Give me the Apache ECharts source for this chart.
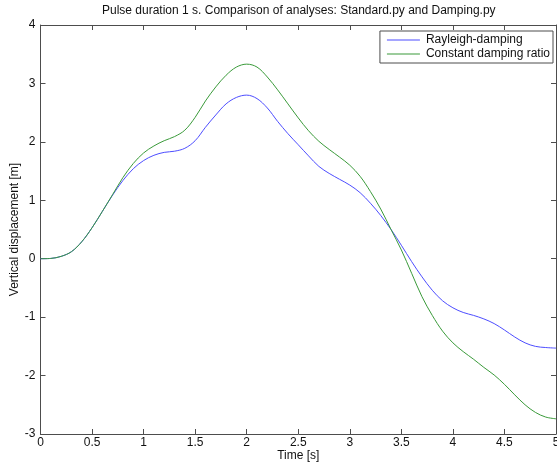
<!DOCTYPE html>
<html>
<head>
<meta charset="utf-8">
<script src="https://cdn.jsdelivr.net/npm/echarts@6/dist/echarts.min.js"></script>
<style>
  html, body { margin: 0; padding: 0; background: #fff; }
  #chart { width: 557px; height: 466px; }
</style>
</head>
<body>
<div id="chart"></div>
<script>
// Time samples [s]
const time = [0.0, 0.1, 0.2, 0.3, 0.4, 0.5, 0.6, 0.7, 0.8, 0.9,
              1.0, 1.1, 1.2, 1.3, 1.4, 1.5, 1.6, 1.7, 1.8, 1.9,
              2.0, 2.1, 2.2, 2.3, 2.4, 2.5, 2.6, 2.7, 2.8, 2.9,
              3.0, 3.1, 3.2, 3.3, 3.4, 3.5, 3.6, 3.7, 3.8, 3.9,
              4.0, 4.1, 4.2, 4.3, 4.4, 4.5, 4.6, 4.7, 4.8, 4.9, 5.0];

// Vertical displacement [m], Rayleigh damping
const rayleigh = [0.0, 0.005, 0.04, 0.12, 0.29, 0.53, 0.81, 1.09, 1.34, 1.54,
                  1.68, 1.77, 1.82, 1.84, 1.89, 2.02, 2.25, 2.46, 2.65, 2.76,
                  2.80, 2.74, 2.58, 2.35, 2.14, 1.95, 1.76, 1.58, 1.46, 1.36,
                  1.26, 1.13, 0.95, 0.74, 0.50, 0.23, -0.05, -0.31, -0.54, -0.72,
                  -0.84, -0.92, -0.97, -1.03, -1.11, -1.22, -1.34, -1.44, -1.50, -1.52, -1.53];

// Vertical displacement [m], constant damping ratio
const constantRatio = [0.0, 0.005, 0.04, 0.12, 0.29, 0.53, 0.81, 1.10, 1.39, 1.63,
                       1.81, 1.93, 2.02, 2.09, 2.20, 2.42, 2.70, 2.94, 3.14, 3.28,
                       3.33, 3.28, 3.11, 2.89, 2.65, 2.41, 2.19, 2.01, 1.87, 1.74,
                       1.60, 1.41, 1.15, 0.85, 0.50, 0.15, -0.25, -0.65, -0.97, -1.24,
                       -1.44, -1.59, -1.72, -1.86, -1.99, -2.15, -2.33, -2.50, -2.63, -2.71, -2.74];

const seriesNames = ['Rayleigh-damping', 'Constant damping ratio'];
const titleText = 'Pulse duration 1 s. Comparison of analyses: Standard.py and Damping.py';
const xName = 'Time [s]';
const yName = 'Vertical displacement [m]';

const FONT = '"Liberation Sans", Arial, sans-serif';
const AXIS_COLOR = '#4d4d4d';

function pairs(xs, ys) { return xs.map((x, i) => [x, ys[i]]); }

const tickStyle = { show: true, inside: true, length: 5, lineStyle: { color: AXIS_COLOR, width: 1 } };
const lineStyle = { show: true, onZero: false, lineStyle: { color: AXIS_COLOR, width: 1 } };

const chart = echarts.init(document.getElementById('chart'), null, { renderer: 'canvas' });
chart.setOption({
  animation: false,
  backgroundColor: '#ffffff',
  title: {
    text: titleText,
    left: 102,
    top: 5,
    padding: 0,
    textStyle: { fontFamily: FONT, fontSize: 12, fontWeight: 'normal', color: '#111' }
  },
  legend: {
    data: seriesNames,
    orient: 'vertical',
    right: 4,
    top: 31,
    padding: [3, 3, 3, 7],
    itemGap: 2,
    itemWidth: 33,
    itemHeight: 1,
    icon: 'rect',
    borderColor: AXIS_COLOR,
    borderWidth: 1,
    backgroundColor: '#ffffff',
    textStyle: { fontFamily: FONT, fontSize: 12, color: '#111', padding: [0, 0, 0, 1] }
  },
  grid: { left: 40.5, right: 1, top: 25, bottom: 32, outerBoundsMode: 'none', containLabel: false },
  xAxis: [{
    type: 'value', min: 0, max: 5, interval: 0.5, position: 'bottom',
    name: xName, nameLocation: 'middle', nameGap: 16, nameMoveOverlap: false,
    nameTextStyle: { fontFamily: FONT, fontSize: 12, color: '#111' },
    axisLine: lineStyle, axisTick: tickStyle, splitLine: { show: false },
    axisLabel: { fontFamily: FONT, fontSize: 12, color: '#111', margin: 3 }
  }, {
    type: 'value', min: 0, max: 5, interval: 0.5, position: 'top',
    axisLine: lineStyle, axisTick: tickStyle, splitLine: { show: false },
    axisLabel: { show: false }
  }],
  yAxis: [{
    type: 'value', min: -3, max: 4, interval: 1, position: 'left',
    name: yName, nameLocation: 'middle', nameGap: 20, nameMoveOverlap: false,
    nameTextStyle: { fontFamily: FONT, fontSize: 12, color: '#111' },
    axisLine: lineStyle, axisTick: tickStyle, splitLine: { show: false },
    axisLabel: { fontFamily: FONT, fontSize: 12, color: '#111', margin: 5 }
  }, {
    type: 'value', min: -3, max: 4, interval: 1, position: 'right',
    axisLine: lineStyle, axisTick: tickStyle, splitLine: { show: false },
    axisLabel: { show: false }
  }],
  series: [{
    name: seriesNames[0],
    type: 'line',
    data: pairs(time, rayleigh),
    smooth: 0.35,
    symbol: 'none',
    lineStyle: { color: '#4d4dff', width: 1 },
    itemStyle: { color: '#4d4dff' }
  }, {
    name: seriesNames[1],
    type: 'line',
    data: pairs(time, constantRatio),
    smooth: 0.35,
    symbol: 'none',
    lineStyle: { color: '#3a9a3a', width: 1 },
    itemStyle: { color: '#3a9a3a' }
  }]
});
</script>
</body>
</html>
